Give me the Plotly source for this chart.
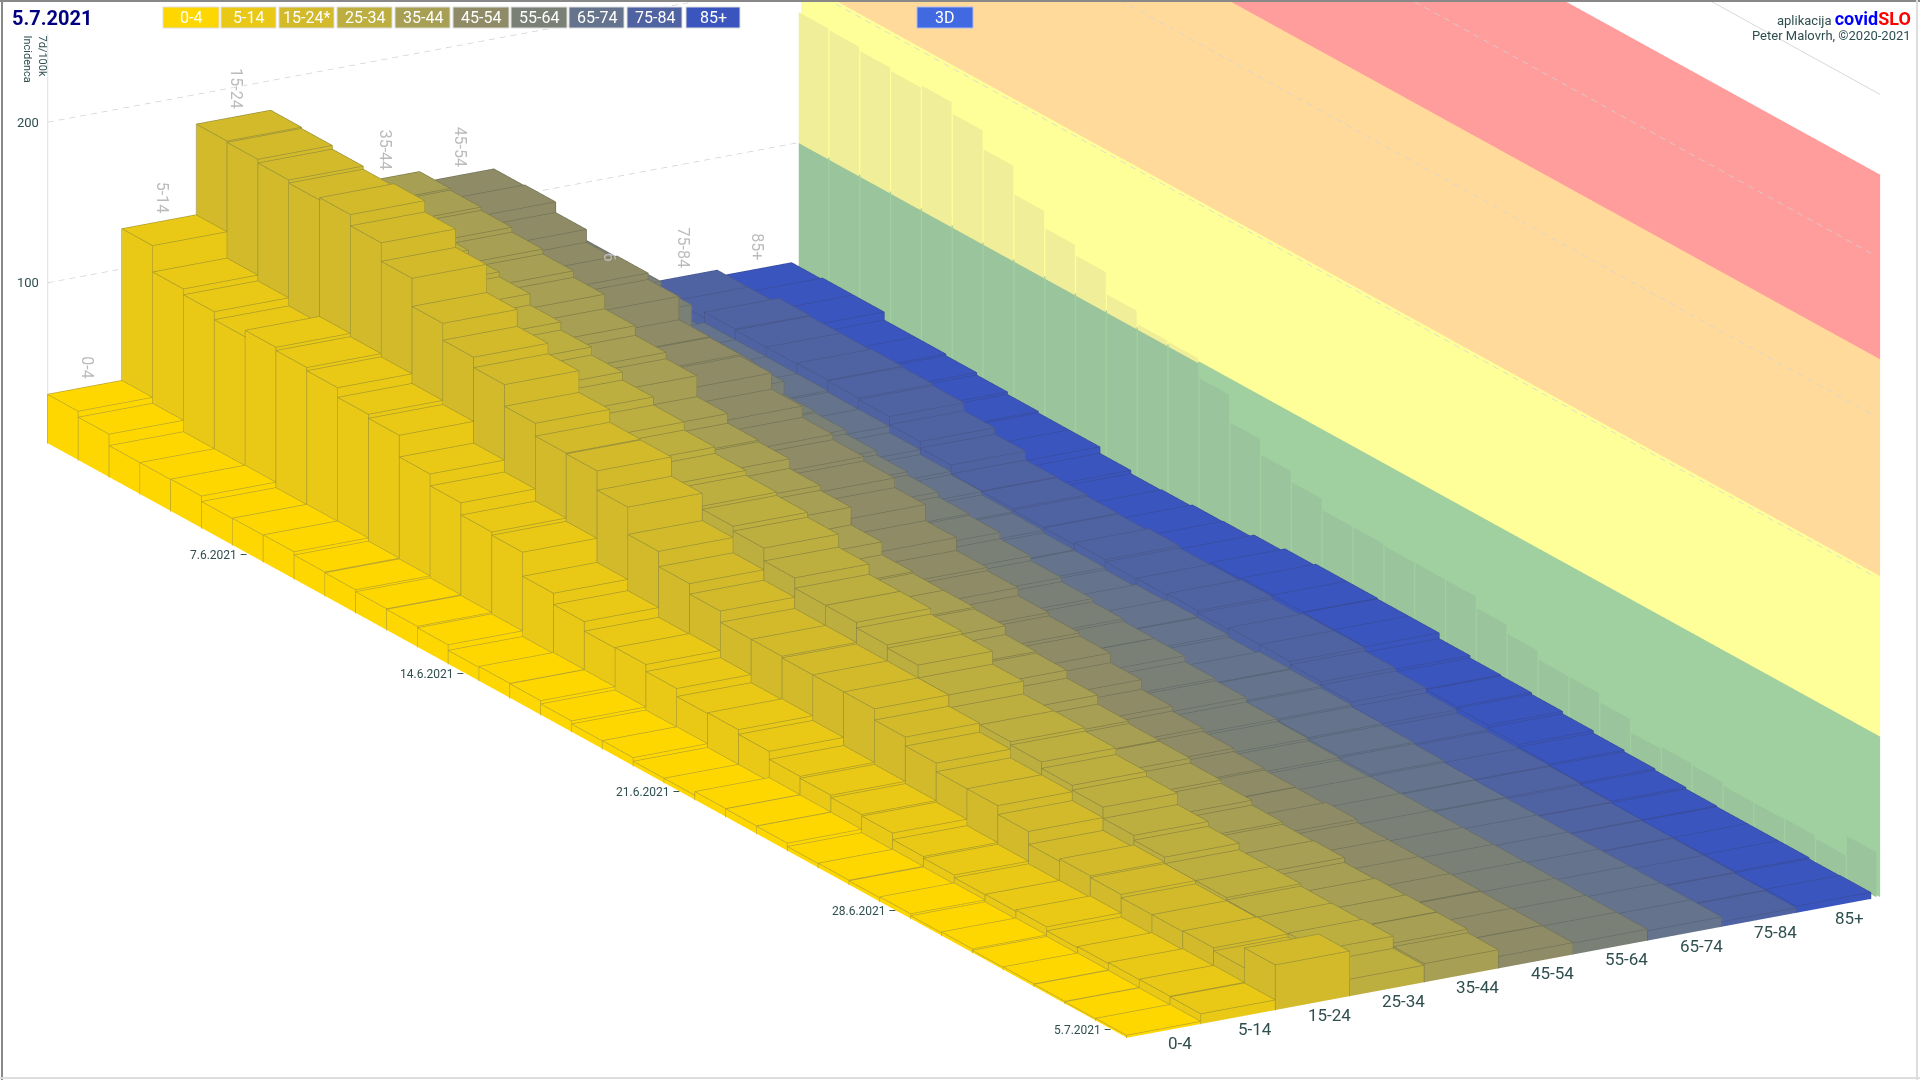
import math
import numpy as np
import plotly.graph_objects as go

age_groups = ["0-4","5-14","15-24","25-34","35-44","45-54","55-64","65-74","75-84","85+"]
legend_labels = ["0-4","5-14","15-24*","25-34","35-44","45-54","55-64","65-74","75-84","85+"]
date_ticks = {6:"7.6.2021",13:"14.6.2021",20:"21.6.2021",27:"28.6.2021",34:"5.7.2021"}

s_0_4  = [30.5,26.8,19.7,19.7,20,16.6,16.8,17,15,14.5,13.3,12.9,12,8.5,9.1,8.9,6.9,5,5.2,2.9,2.9,5.2,5,4.8,2.7,2.9,2.5,3.1,1.9,2.4,1.5,1.8,1.5,1.2,1.5]
s_5_14 = [125,108.6,105,100,104,102,100,94,91.5,78,70.6,63,61,46,39,33,33.4,29,24,24.5,21.6,16.6,15.4,14,13,9,8,6.4,6.6,7.5,5,5.8,6.4,6.6,6.2]
s_15_24= [181.5,180.7,178.4,176.5,178,171,159.5,142,131.5,125,111.5,103.5,103,91,74,64.5,58,51,51,50,50,50,43,37.4,32,32,26.5,18.5,20,19,17,17,17.5,15.6,28]
s_25_34= [135,132,130,128,125,122,115,110,105,100,95,90,86,83,81,78,70,63.6,63.5,60,58,50,42,42,40,36,33,26,23,19,19,17.5,17.5,18,10.5]
s_35_44= [126,125,123,120,117,113,104,98,94,81,75,74,68,65,54,46,45,45,44,38.6,37.6,32.6,27,25.5,25,22,20,17,15.6,16,13,13.7,14,13.7,11.5]
s_45_54= [119,119.6,113,105,107,103,88.5,88,87,77,70,66.7,64,58,48,40,38,33,31,29,23,17,14,12,10,9,8.7,10,8,8,8,8,7.5,7.5,7.3]
s_55_64= [72,72,72,68,54,54,52,44,43,40.5,38,36,33,32,28,25,22.5,20.5,19,18.7,15,13.7,11,9.4,8,6.5,7,7,7,7,7,7,7,7,7]
s_65_74= [22,24,27,27,27,27,26,26,22,19,17,15,14,12.5,12,10.6,12,13,12.5,11,12.5,12,11,10,9,8,7,6.5,6,6,6,6,6,6,6]
s_75_84= [30,30,33.6,33,33,33.6,33,32,27,23,17.5,17,16,15.6,17,15.6,16,17,15.6,17,17,15,13,10,8,7,7,6.5,5.5,5,4.5,4,4,3.5,3]
s_85   = [26,27,27,22,22,21,19.5,18,17,17,13,11,11.5,12.6,13,15,17,18,18,17.5,17.5,14,12.5,12,11,9.5,8,7,6,5,4.5,4.5,4.5,3.7,4]
series = [s_0_4,s_5_14,s_15_24,s_25_34,s_35_44,s_45_54,s_55_64,s_65_74,s_75_84,s_85]

series_colors = ["#FFD700","#E9C816","#D2BA2A","#BCAE3F","#A79F54","#8F8B66","#7B8077","#65738C","#4F62A2","#3A55BD"]
edge_colors   = ["#B8A530","#A89A2A","#98903A","#8C8640","#7F7C48","#707258","#646C68","#566478","#48588C","#384C9C"]
band_edges  = [0,100,200,335,450]
band_colors = ["#A0D0A0","#FFFF99","#FFDA9B","#FF9C9C"]
ghost_colors= ["#9AC59C","#F0EE98","#F0CC92","#F09292"]
grid_values = [100,200,300,400]
ink = "#2F4F4F"

WALL_Y = 10.12
X_MAX = 35
Z_MAX = 500
PAD_X, PAD_Y, PAD_Z = 1.0, 1.0, 10.0

fig = go.Figure()

def box_mesh(x0,x1,y0,y1,z0,z1):
    xs=[x0,x1,x1,x0,x0,x1,x1,x0]; ys=[y0,y0,y1,y1,y0,y0,y1,y1]; zs=[z0,z0,z0,z0,z1,z1,z1,z1]
    tri=[(0,1,5),(0,5,4),(1,2,6),(1,6,5),(2,3,7),(2,7,6),(3,0,4),(3,4,7),(4,5,6),(4,6,7)]
    return xs,ys,zs,tri

FLAT=dict(ambient=1,diffuse=0,specular=0,roughness=1,fresnel=0)

def add_mesh(boxes,color,name):
    X=[];Y=[];Z=[];I=[];J=[];K=[]
    for b in boxes:
        xs,ys,zs,tri=box_mesh(*b)
        n=len(X)
        X+=xs;Y+=ys;Z+=zs
        for a,bb,c in tri:
            I.append(n+a);J.append(n+bb);K.append(n+c)
    fig.add_trace(go.Mesh3d(x=X,y=Y,z=Z,i=I,j=J,k=K,color=color,name=name,flatshading=True,
                            hoverinfo="skip",showscale=False,lighting=FLAT))

def add_wall_quads(quads,color,name,y):
    X=[];Y=[];Z=[];I=[];J=[];K=[]
    for x0,x1,z0,z1 in quads:
        n=len(X)
        X+=[x0,x1,x1,x0];Y+=[y]*4;Z+=[z0,z0,z1,z1]
        I+=[n,n];J+=[n+1,n+2];K+=[n+2,n+3]
    fig.add_trace(go.Mesh3d(x=X,y=Y,z=Z,i=I,j=J,k=K,color=color,name=name,flatshading=True,
                            hoverinfo="skip",showscale=False,lighting=FLAT))

# wall bands
for lo,hi,col in zip(band_edges[:-1],band_edges[1:],band_colors):
    add_wall_quads([(0,X_MAX,lo,hi)],col,f"band {lo}-{hi}",WALL_Y)

# the 15-24 series repeated as a faint silhouette on the wall
for lo,hi,col in zip(band_edges[:-1],band_edges[1:],ghost_colors):
    q=[(c+0.02,c+0.98,lo,min(v,hi)) for c,v in enumerate(s_15_24) if v>lo]
    if q:
        add_wall_quads(q,col,f"ghost {lo}",WALL_Y-0.04)

# bars
eps=(0.012,-0.012,0.25)
for g,(vals,col,ec,name) in enumerate(zip(series,series_colors,edge_colors,age_groups)):
    add_mesh([(c,c+1,g,g+1,0,v) for c,v in enumerate(vals)],col,name)
    ex=[];ey=[];ez=[]
    for c,v in enumerate(vals):
        x0,x1=c+eps[0],c+1+eps[0]
        y0,y1=g+eps[1],g+1+eps[1]
        z=v+eps[2]
        ex+=[x0,x1,x1,x0,x0,None]; ey+=[y0,y0,y1,y1,y0,None]; ez+=[z,z,z,z,z,None]
        ex+=[x0,x0,None,x1,x1,None]; ey+=[y0,y0,None,y0,y0,None]; ez+=[0,z,None,0,z,None]
        ex+=[x1,x1,None]; ey+=[y1,y1,None]; ez+=[0,z,None]
    fig.add_trace(go.Scatter3d(x=ex,y=ey,z=ez,mode="lines",line=dict(color=ec,width=1.4),hoverinfo="skip",showlegend=False))

def dashes(p0,p1,n):
    xs=[];ys=[];zs=[]
    ts=np.linspace(0,1,n+1)
    for a,b in zip(ts[:-1],ts[1:]):
        m=a+(b-a)*0.55
        for t in (a,m):
            xs.append(float(p0[0]+(p1[0]-p0[0])*t)); ys.append(float(p0[1]+(p1[1]-p0[1])*t)); zs.append(float(p0[2]+(p1[2]-p0[2])*t))
        xs.append(None);ys.append(None);zs.append(None)
    return xs,ys,zs

gx=[];gy=[];gz=[]
for v in grid_values:
    a,b,c=dashes((0,0,v),(0,WALL_Y,v),70)
    gx+=a;gy+=b;gz+=c
fig.add_trace(go.Scatter3d(x=gx,y=gy,z=gz,mode="lines",line=dict(color="#CCCCCC",width=1.3),hoverinfo="skip",showlegend=False))
gx=[];gy=[];gz=[]
for v in [200,300,400]:
    a,b,c=dashes((0,WALL_Y-0.06,v),(X_MAX,WALL_Y-0.06,v),110)
    gx+=a;gy+=b;gz+=c
fig.add_trace(go.Scatter3d(x=gx,y=gy,z=gz,mode="lines",line=dict(color="#D4D4D4",width=1.3),hoverinfo="skip",showlegend=False))
fig.add_trace(go.Scatter3d(x=[0,0,None,0,X_MAX],y=[0,0,None,WALL_Y,WALL_Y],z=[0,255,None,Z_MAX,Z_MAX],mode="lines",
    line=dict(color="#CCCCCC",width=1.3),hoverinfo="skip",showlegend=False))

# annotations in the scene
scene_ann=[]
for v in [100,200]:
    scene_ann.append(dict(x=0,y=0,z=v,text=str(v),showarrow=False,xanchor="right",xshift=-7,font=dict(family="Roboto",size=13,color=ink)))
for c,t in date_ticks.items():
    scene_ann.append(dict(x=c+0.5,y=0,z=0,text=t+" –",showarrow=False,xanchor="right",yshift=-1,xshift=2,font=dict(family="Roboto",size=12,color=ink)))
for g,name in enumerate(age_groups):
    scene_ann.append(dict(x=X_MAX,y=g+0.5,z=0,text=name,showarrow=False,xanchor="center",xshift=16,yshift=-12,font=dict(family="Roboto",size=17,color=ink)))
for g in [0,1,2,4,5,8,9]:
    scene_ann.append(dict(x=0,y=g+0.5,z=series[g][0],text=age_groups[g],showarrow=False,textangle=90,yanchor="bottom",xshift=3,yshift=7,font=dict(family="Roboto",size=16,color="#BBBBBB")))
scene_ann.append(dict(x=0,y=7.5,z=series[7][0],text="6",showarrow=False,textangle=90,yanchor="middle",xshift=3,yshift=47,font=dict(family="Roboto",size=16,color="#BBBBBB")))

# camera (orthographic, fitted to the reference projection)
PX_PER_UNIT=539.7
LEN_X,LEN_Y,LEN_Z=2144.0,871.0,847.0
theta=math.radians(-30.2); phi=math.radians(18.7)
e=(math.cos(theta)*math.cos(phi),math.sin(theta)*math.cos(phi),math.sin(phi))
r=(-math.sin(theta),math.cos(theta),0.0)
D=1.0
T=3.0   # slide camera and centre together along the view line so nothing hits the near plane
SHIFT_UP=271/PX_PER_UNIT; SHIFT_RIGHT=4/PX_PER_UNIT
C=(-SHIFT_RIGHT*r[0]+T*e[0], -SHIFT_RIGHT*r[1]+T*e[1], -SHIFT_UP/math.cos(phi)+T*e[2])
eye=dict(x=C[0]+D*e[0],y=C[1]+D*e[1],z=C[2]+D*e[2])

W,H=1920,1080
shapes=[];ann=[]
def px(x): return x/W
def py(y): return 1-y/H
legend_x=[(163,219),(221,276),(279,334),(337,392),(395,450),(453,509),(511,567),(569,624),(627,682),(686,740)]
for (a,b),col,lab in zip(legend_x,series_colors,legend_labels):
    shapes.append(dict(type="rect",xref="paper",yref="paper",x0=px(a),x1=px(b),y0=py(28),y1=py(7),fillcolor=col,line=dict(color="#DDDDDD",width=1)))
    ann.append(dict(xref="paper",yref="paper",x=px((a+b)/2),y=py(17.5),xanchor="center",yanchor="middle",text=lab,showarrow=False,font=dict(family="Roboto",size=16,color="white")))
shapes.append(dict(type="rect",xref="paper",yref="paper",x0=px(917),x1=px(973),y0=py(28),y1=py(7),fillcolor="#4169E1",line=dict(color="#AABBEE",width=1)))
ann.append(dict(xref="paper",yref="paper",x=px(945),y=py(17.5),xanchor="center",yanchor="middle",text="3D",showarrow=False,font=dict(family="Roboto",size=16,color="white")))
ann.append(dict(xref="paper",yref="paper",x=px(10),y=py(18),xanchor="left",yanchor="middle",text="<b>5.7.2021</b>",showarrow=False,font=dict(family="Roboto",size=20,color="#000080")))
ann.append(dict(xref="paper",yref="paper",x=px(35),y=py(33),xanchor="center",yanchor="top",text="7d/100k<br>Incidenca",align="left",textangle=90,showarrow=False,font=dict(family="Roboto",size=11,color=ink)))
ann.append(dict(xref="paper",yref="paper",x=px(1913),y=py(18),xanchor="right",yanchor="middle",showarrow=False,
    text="<span style='font-size:13px;color:#2F4F4F'>aplikacija </span><b><span style='color:#0000FF'>covid</span><span style='color:#FF0000'>SLO</span></b>",
    font=dict(family="Roboto",size=18,color=ink)))
ann.append(dict(xref="paper",yref="paper",x=px(1913),y=py(35),xanchor="right",yanchor="middle",showarrow=False,text="Peter Malovrh, ©2020-2021",font=dict(family="Roboto",size=13,color=ink)))
shapes.append(dict(type="line",xref="paper",yref="paper",x0=0,x1=1,y0=py(1),y1=py(1),line=dict(color="#888888",width=2)))
shapes.append(dict(type="line",xref="paper",yref="paper",x0=px(2),x1=px(2),y0=0,y1=1,line=dict(color="#888888",width=2)))
shapes.append(dict(type="line",xref="paper",yref="paper",x0=0,x1=1,y0=py(1078),y1=py(1078),line=dict(color="#DDDDDD",width=2)))
shapes.append(dict(type="line",xref="paper",yref="paper",x0=px(1917),x1=px(1917),y0=0,y1=1,line=dict(color="#DDDDDD",width=2)))

axis=dict(visible=False,showbackground=False,showgrid=False,zeroline=False,showspikes=False)
fig.update_layout(
    width=W,height=H,margin=dict(l=0,r=0,t=0,b=0),paper_bgcolor="white",showlegend=False,
    shapes=shapes,annotations=ann,
    scene=dict(
        domain=dict(x=[0,1],y=[0,1]),
        xaxis=dict(axis,range=[-PAD_X,X_MAX+PAD_X]),yaxis=dict(axis,range=[-PAD_Y,WALL_Y+PAD_Y]),zaxis=dict(axis,range=[-PAD_Z,Z_MAX+PAD_Z]),
        aspectmode="manual",
        aspectratio=dict(x=LEN_X/PX_PER_UNIT*(X_MAX+2*PAD_X)/X_MAX,
                         y=LEN_Y/PX_PER_UNIT*(WALL_Y+2*PAD_Y)/WALL_Y,
                         z=LEN_Z/PX_PER_UNIT*(Z_MAX+2*PAD_Z)/Z_MAX),
        camera=dict(projection=dict(type="orthographic"),up=dict(x=0,y=0,z=1),center=dict(x=C[0],y=C[1],z=C[2]),eye=eye),
        annotations=scene_ann,
    ),
)
fig.write_html("out.html",config=dict(displayModeBar=False),post_script="document.body.style.margin='0';document.body.style.overflow='hidden';")
